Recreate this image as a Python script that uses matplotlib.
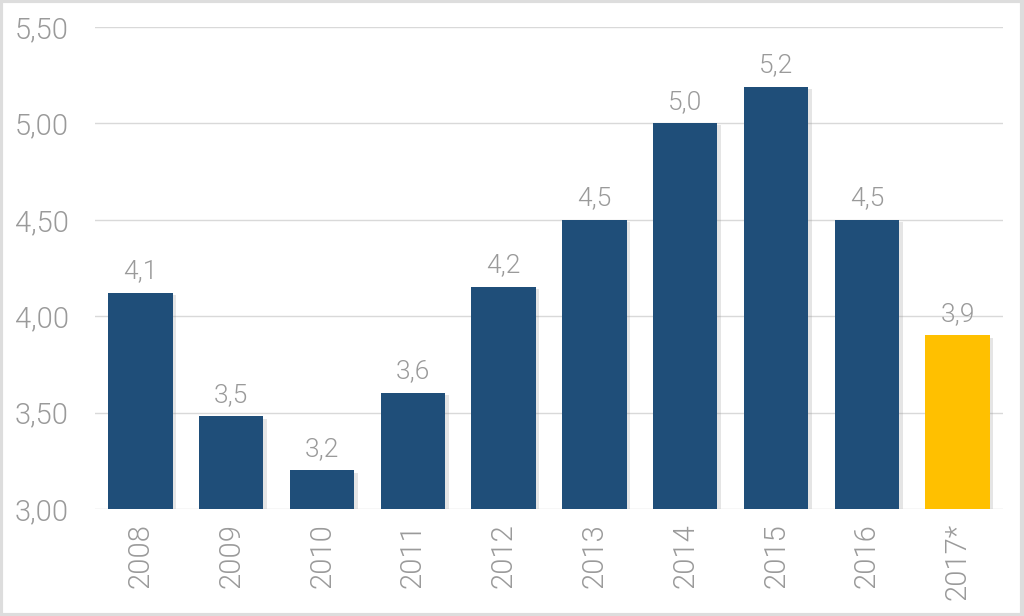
import matplotlib
matplotlib.use('Agg')
import matplotlib.pyplot as plt
import matplotlib.patheffects as pe
from matplotlib.patches import Rectangle

years = ['2008', '2009', '2010', '2011', '2012', '2013', '2014', '2015', '2016', '2017*']
values = [4.12, 3.48, 3.20, 3.60, 4.15, 4.50, 5.00, 5.19, 4.50, 3.90]
labels = ['4,1', '3,5', '3,2', '3,6', '4,2', '4,5', '5,0', '5,2', '4,5', '3,9']
yticks = [3.0, 3.5, 4.0, 4.5, 5.0, 5.5]

blue = '#1f4e79'
yellow = '#ffc000'
grey = '#9a9a9a'

plt.rcParams['font.family'] = ['Roboto', 'DejaVu Sans']

fig = plt.figure(figsize=(10.24, 6.16), dpi=100)
ax = fig.add_axes([0.0928, 0.1737, 0.8867, 0.7825])

colors = [blue] * (len(years) - 1) + [yellow]
x = range(len(years))
bars = ax.bar(x, [v - 3.0 for v in values], bottom=3.0, width=0.71, color=colors, zorder=3)
for b in bars:
    b.set_path_effects([pe.SimplePatchShadow(offset=(2.5, -1.5), shadow_rgbFace='#999999', alpha=0.25),
                        pe.Normal()])

for xi, v, lab in zip(x, values, labels):
    ax.annotate(lab, (xi, v), xytext=(0, 7), textcoords='offset points',
                ha='center', va='bottom', fontsize=19, color=grey, fontweight=300)

ax.set_xlim(-0.5, 9.5)
ax.set_ylim(3.0, 5.5)
ax.set_yticks(yticks)
ax.set_yticklabels(['{:.2f}'.format(t).replace('.', ',') for t in yticks])
ax.set_xticks(list(x))
ax.set_xticklabels(years, rotation=90)
ax.tick_params(axis='y', length=0, pad=19, labelsize=21, labelcolor=grey)
ax.tick_params(axis='x', length=0, pad=10, labelsize=21, labelcolor=grey)
for lab in ax.get_xticklabels() + ax.get_yticklabels():
    lab.set_fontweight(300)

ax.grid(axis='y', color='#d9d9d9', linewidth=1, zorder=0)
for s in ax.spines.values():
    s.set_visible(False)

# thin light frame around the whole picture
fig.patches.append(Rectangle((0.001, 0.002), 0.997, 0.996, transform=fig.transFigure,
                             fill=False, edgecolor='#dddddd', linewidth=3))

fig.savefig('out.png', dpi=100)
